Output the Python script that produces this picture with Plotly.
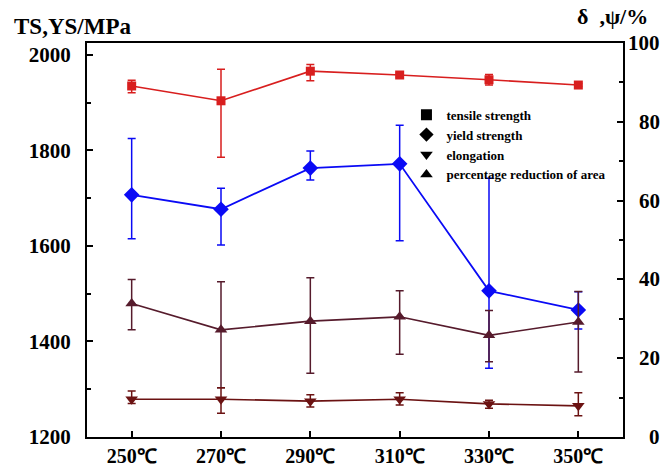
import plotly.graph_objects as go

categories = ["250℃", "270℃", "290℃", "310℃", "330℃", "350℃"]

ts_values = [1935, 1904, 1966, 1958, 1948, 1937]
ts_err_plus = [12, 66, 14, 4, 11, 3]
ts_err_minus = [14, 118, 20, 4, 11, 3]

ys_values = [1707, 1677, 1763, 1772, 1506, 1466]
ys_err_plus = [118, 44, 36, 81, 236, 38]
ys_err_minus = [92, 75, 25, 161, 162, 40]

el_values = [9.6, 9.6, 9.1, 9.6, 8.4, 7.9]
el_err_plus = [2.1, 2.9, 1.6, 1.6, 0.9, 3.3]
el_err_minus = [1.1, 3.6, 1.5, 1.5, 1.1, 2.5]

ra_values = [33.9, 27.2, 29.4, 30.5, 25.8, 29.2]
ra_err_plus = [6.1, 12.2, 11.0, 6.6, 6.3, 7.7]
ra_err_minus = [6.7, 14.7, 13.2, 9.5, 6.7, 12.7]

legend_names = ["tensile strength", "yield strength", "elongation", "percentage reduction of area"]
legend_symbols = ["square", "diamond", "triangle-down", "triangle-up"]

left_ticks = [1200, 1400, 1600, 1800, 2000]
right_ticks = [0, 20, 40, 60, 80, 100]

RED = "#D81E1E"
BLUE = "#0A0AF5"
EL = "#6B1212"
RA = "#561B2C"
FONT = "Liberation Serif, Times New Roman, serif"

fig = go.Figure()

def add_series(y, ep, em, color, symbol, size, axis, lw):
    fig.add_trace(go.Scatter(
        x=categories, y=y, mode="lines+markers", yaxis=axis, showlegend=False,
        line=dict(color=color, width=lw),
        marker=dict(symbol=symbol, size=size, color=color),
        error_y=dict(type="data", symmetric=False, array=ep, arrayminus=em,
                     color=color, thickness=1.5, width=4),
    ))

add_series(ts_values, ts_err_plus, ts_err_minus, RED, "square", 9, "y", 1.6)
add_series(ys_values, ys_err_plus, ys_err_minus, BLUE, "diamond", 12, "y", 1.8)
add_series(ra_values, ra_err_plus, ra_err_minus, RA, "triangle-up", 11, "y2", 1.6)
add_series(el_values, el_err_plus, el_err_minus, EL, "triangle-down", 11, "y2", 1.6)

for name, sym in zip(legend_names, legend_symbols):
    fig.add_trace(go.Scatter(
        x=[None], y=[None], mode="markers", name="<b>" + name + "</b>",
        marker=dict(symbol=sym, size=11, color="black"),
        showlegend=True,
    ))

tickfont = dict(family=FONT, size=21, color="black")
xtickfont = dict(family=FONT, size=20, color="black")

fig.update_layout(
    width=665, height=465,
    margin=dict(l=87, r=42, t=43, b=28, autoexpand=False),
    paper_bgcolor="white", plot_bgcolor="white",
    font=dict(family=FONT, color="black"),
    xaxis=dict(
        type="category", range=[-0.5, 5.5], automargin=False,
        tickvals=categories, ticktext=["<b>" + c + "</b>" for c in categories],
        showline=True, linecolor="black", linewidth=2, mirror=True,
        ticks="inside", ticklen=6, tickwidth=1.5, tickcolor="black",
        showgrid=False, zeroline=False, tickfont=xtickfont,
        ticklabelstandoff=0,
    ),
    yaxis=dict(
        range=[1200, 2025], automargin=False,
        tickvals=left_ticks, ticktext=["<b>%d</b>" % v for v in left_ticks],
        showline=True, linecolor="black", linewidth=2,
        ticks="inside", ticklen=6, tickwidth=1.5, tickcolor="black",
        minor=dict(ticks="inside", dtick=100, ticklen=4, tickwidth=1.5, tickcolor="black"),
        showgrid=False, zeroline=False, tickfont=tickfont,
        ticklabelstandoff=10,
    ),
    yaxis2=dict(
        range=[0, 100], tickvals=right_ticks, overlaying="y", side="right",
        automargin=False,
        showline=True, linecolor="black", linewidth=2,
        ticks="inside", ticklen=6, tickwidth=1.5, tickcolor="black",
        minor=dict(ticks="inside", dtick=10, ticklen=4, tickwidth=1.5, tickcolor="black"),
        showgrid=False, zeroline=False, showticklabels=False,
    ),
    legend=dict(
        x=0.596, y=0.856, xanchor="left", yanchor="top",
        bgcolor="rgba(0,0,0,0)", borderwidth=0,
        font=dict(family=FONT, size=13, color="black"),
        tracegroupgap=0, itemsizing="trace",
    ),
    showlegend=True,
)

for v in right_ticks:
    fig.add_annotation(
        x=1, xref="paper", y=v, yref="y2", text="<b>%d</b>" % v, showarrow=False,
        xanchor="right", yanchor="middle", xshift=39,
        font=tickfont,
    )

fig.add_annotation(
    x=-0.14, xref="paper", y=1.043, yref="paper", text="<b>TS,YS/MPa</b>", showarrow=False,
    xanchor="left", yanchor="middle",
    font=dict(family=FONT, size=23, color="black"),
)
fig.add_annotation(
    x=0.91, xref="paper", y=1.068, yref="paper", text="<b>δ  ,ψ/%</b>", showarrow=False,
    xanchor="left", yanchor="middle",
    font=dict(family=FONT, size=22, color="black"),
)

fig.write_html("out.html", config={"displayModeBar": False},
               post_script="document.body.style.margin='0';")
